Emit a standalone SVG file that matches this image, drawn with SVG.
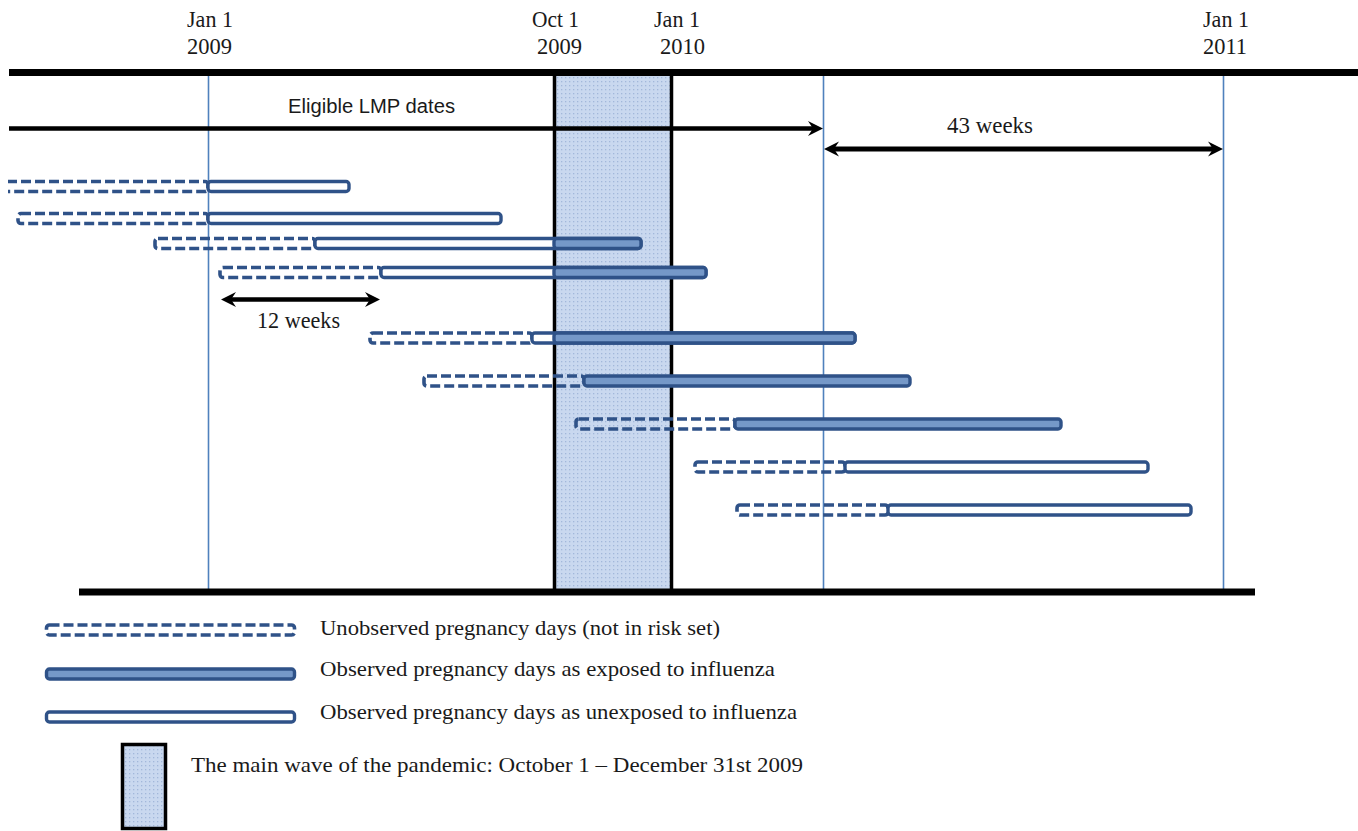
<svg xmlns="http://www.w3.org/2000/svg" width="1358" height="831" viewBox="0 0 1358 831">
<style>
.serif{font-family:"Liberation Serif","Times New Roman",serif;font-size:22px;fill:#1a1a1a}
.head{font-family:"Liberation Serif","Times New Roman",serif;font-size:23px;fill:#1a1a1a}
.sans{font-family:"Liberation Sans",Arial,sans-serif;font-size:20px;fill:#1a1a1a}
.vline{stroke:#4f81bd;stroke-width:1.6;fill:none}
.axis{stroke:#000;stroke-width:7;fill:none}
.edge{stroke:#000;stroke-width:3.5;fill:none}
.unobs{fill:none;stroke:#2f5288;stroke-width:3.6;stroke-dasharray:10 4}
.obs{fill:#fff;stroke:#2f5288;stroke-width:3.4}
.exp{fill:#7598c8;stroke:#2f5288;stroke-width:3.4}
.arr{stroke:#000;fill:none}
</style>
<defs>
<pattern id="dots" width="4" height="4" patternUnits="userSpaceOnUse">
<rect width="4" height="4" fill="#c9d8ef"/>
<rect x="1" y="1" width="1.3" height="1.3" fill="#a2b7da"/>
</pattern>
<marker id="ah" viewBox="-8 -8 17 16" refX="0" refY="0" markerWidth="17" markerHeight="16" orient="auto-start-reverse" markerUnits="userSpaceOnUse">
<path d="M8,0 L-7,-7.5 L-2,0 L-7,7.5 Z" fill="#000"/>
</marker>
<clipPath id="leftclip"><rect x="8" y="0" width="1350" height="831"/></clipPath>
</defs>
<rect width="1358" height="831" fill="#fff"/>

<g id="pandemic">
<rect x="554.5" y="72" width="117" height="520" fill="url(#dots)"/>
</g>

<g id="gridlines">
<line class="vline" x1="208.5" y1="72" x2="208.5" y2="592"/>
<line class="vline" x1="823.5" y1="72" x2="823.5" y2="592"/>
<line class="vline" x1="1223.5" y1="72" x2="1223.5" y2="592"/>
</g>

<g id="pandemic-edges">
<line class="edge" x1="554.5" y1="72" x2="554.5" y2="592"/>
<line class="edge" x1="671.5" y1="72" x2="671.5" y2="592"/>
</g>

<g id="axes">
<line class="axis" x1="9" y1="72.5" x2="1358" y2="72.5"/>
<line class="axis" x1="79" y1="592" x2="1255" y2="592"/>
</g>

<g id="bars">
<g id="row1" clip-path="url(#leftclip)">
<rect class="unobs" x="-10" y="181.5" width="218" height="10" rx="3"/>
<rect class="obs" x="208" y="181.5" width="141" height="10" rx="3"/>
</g>
<g id="row2">
<rect class="unobs" x="18" y="213.5" width="190" height="10" rx="3"/>
<rect class="obs" x="208" y="213.5" width="293" height="10" rx="3"/>
</g>
<g id="row3">
<rect class="unobs" x="155" y="238.5" width="160" height="10" rx="3"/>
<rect class="obs" x="315" y="238.5" width="326" height="10" rx="3"/>
<rect class="exp" x="554" y="238.5" width="87" height="10" rx="3"/>
</g>
<g id="row4">
<rect class="unobs" x="220" y="267.5" width="161" height="10" rx="3"/>
<rect class="obs" x="381" y="267.5" width="325" height="10" rx="3"/>
<rect class="exp" x="554" y="267.5" width="152" height="10" rx="3"/>
</g>
<g id="row5">
<rect class="unobs" x="370" y="333" width="162" height="10" rx="3"/>
<rect class="obs" x="532" y="333" width="323" height="10" rx="3"/>
<rect class="exp" x="554" y="333" width="301" height="10" rx="3"/>
</g>
<g id="row6">
<rect class="unobs" x="424" y="376" width="160" height="10" rx="3"/>
<rect class="exp" x="584" y="376" width="326" height="10" rx="3"/>
</g>
<g id="row7">
<rect class="unobs" x="576" y="419" width="159" height="10" rx="3"/>
<rect class="exp" x="735" y="419" width="326" height="10" rx="3"/>
</g>
<g id="row8">
<rect class="unobs" x="695" y="462" width="150" height="10" rx="3"/>
<rect class="obs" x="845" y="462" width="303" height="10" rx="3"/>
</g>
<g id="row9">
<rect class="unobs" x="737" y="505" width="151" height="10" rx="3"/>
<rect class="obs" x="888" y="505" width="303" height="10" rx="3"/>
</g>
</g>

<g id="connectors">
<line class="arr" stroke-width="4.5" x1="9" y1="128.5" x2="815" y2="128.5" marker-end="url(#ah)"/>
<line class="arr" stroke-width="5" x1="832" y1="149" x2="1215" y2="149" marker-start="url(#ah)" marker-end="url(#ah)"/>
<line class="arr" stroke-width="4.5" x1="229" y1="299.5" x2="372" y2="299.5" marker-start="url(#ah)" marker-end="url(#ah)"/>
</g>

<g id="labels">
<text class="head" x="187" y="27" textLength="46" lengthAdjust="spacingAndGlyphs">Jan 1</text>
<text class="head" x="187" y="54" textLength="45" lengthAdjust="spacingAndGlyphs">2009</text>
<text class="head" x="532" y="27" textLength="47" lengthAdjust="spacingAndGlyphs">Oct 1</text>
<text class="head" x="537" y="54" textLength="45" lengthAdjust="spacingAndGlyphs">2009</text>
<text class="head" x="654" y="27" textLength="46" lengthAdjust="spacingAndGlyphs">Jan 1</text>
<text class="head" x="660" y="54" textLength="45" lengthAdjust="spacingAndGlyphs">2010</text>
<text class="head" x="1203" y="27" textLength="46" lengthAdjust="spacingAndGlyphs">Jan 1</text>
<text class="head" x="1203" y="54" textLength="44" lengthAdjust="spacingAndGlyphs">2011</text>
<text class="sans" x="288" y="113" textLength="167" lengthAdjust="spacingAndGlyphs">Eligible LMP dates</text>
<text class="head" x="947" y="133" textLength="86" lengthAdjust="spacingAndGlyphs">43 weeks</text>
<text class="head" x="257" y="328" textLength="83" lengthAdjust="spacingAndGlyphs">12 weeks</text>
</g>

<g id="legend">
<g id="legend-unobserved">
<rect class="unobs" x="46.5" y="625" width="248" height="10" rx="3"/>
<text class="serif" x="320" y="635" textLength="400" lengthAdjust="spacingAndGlyphs">Unobserved pregnancy days (not in risk set)</text>
</g>
<g id="legend-exposed">
<rect class="exp" x="46.5" y="669" width="248" height="10" rx="3"/>
<text class="serif" x="320" y="676" textLength="455" lengthAdjust="spacingAndGlyphs">Observed pregnancy days as exposed to influenza</text>
</g>
<g id="legend-unexposed">
<rect class="obs" x="46.5" y="712" width="248" height="10" rx="3"/>
<text class="serif" x="320" y="719" textLength="477" lengthAdjust="spacingAndGlyphs">Observed pregnancy days as unexposed to influenza</text>
</g>
<g id="legend-pandemic">
<rect x="122.5" y="744.5" width="43" height="84" fill="url(#dots)" stroke="#000" stroke-width="3.5"/>
<text class="serif" x="191" y="772" textLength="612" lengthAdjust="spacingAndGlyphs">The main wave of the pandemic: October 1 – December 31st 2009</text>
</g>
</g>
</svg>
